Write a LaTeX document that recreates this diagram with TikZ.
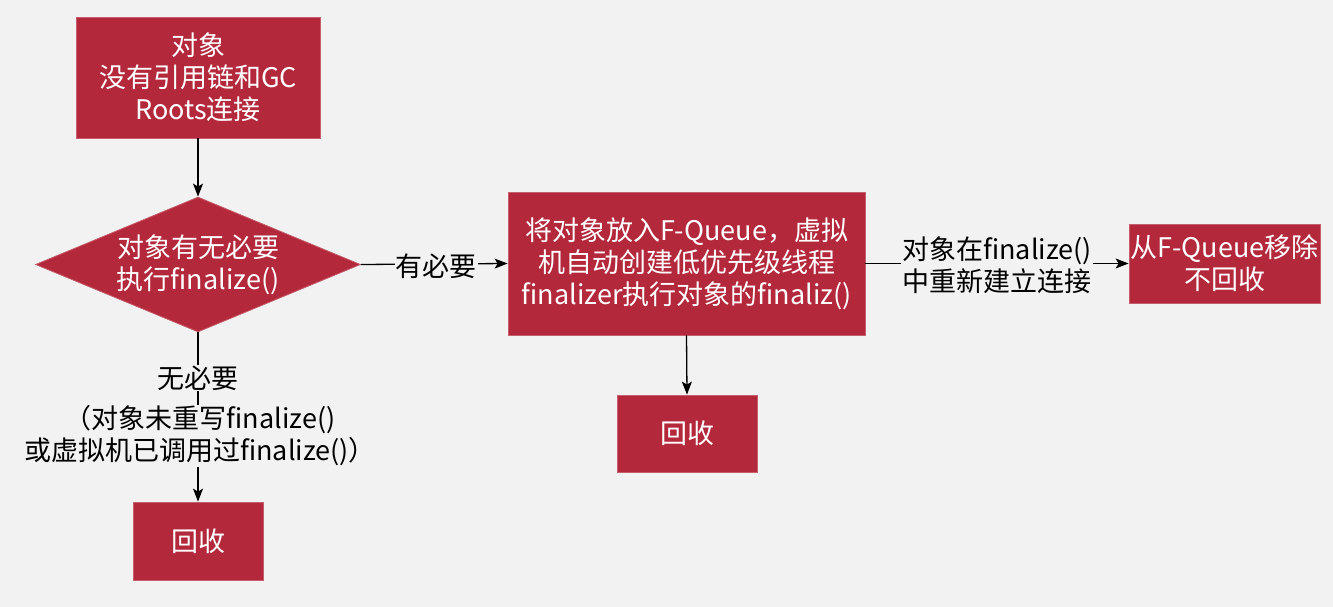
\documentclass[tikz,border=0pt]{standalone}
\usepackage{fontspec}
\setmainfont{Noto Sans CJK SC}
\usetikzlibrary{shapes.geometric,arrows.meta}
\definecolor{bg}{HTML}{F2F2F2}
\definecolor{boxred}{HTML}{B3293B}
\tikzset{
  redbox/.style={rectangle, fill=boxred, draw=boxred!75!white, line width=0.8pt, text=white,
    font=\fontsize{27}{32}\selectfont, align=center, inner sep=0pt},
  reddia/.style={diamond, shape aspect=2.41, fill=boxred, draw=boxred!75!white, line width=0.8pt, text=white,
    font=\fontsize{27}{32}\selectfont, align=center, inner sep=0pt},
  lbl/.style={fill=bg, text=black, font=\fontsize{27}{32}\selectfont, align=center, inner sep=1pt},
  conn/.style={draw=black, line width=1.3pt, -{Stealth[length=13pt,width=10pt,inset=3pt]}}
}
\begin{document}
\begin{tikzpicture}[x=1pt,y=-1pt]
\fill[bg] (0,0) rectangle (1333,607);
\useasboundingbox (0,0) rectangle (1333,607);

\node[redbox, minimum width=244pt, minimum height=121pt] (start) at (198,77.5)
  {对象\\没有引用链和GC\\Roots连接};
\node[reddia, minimum width=325pt, minimum height=135pt] (dec) at (198,264.5)
  {对象有无必要\\执行finalize()};
\node[redbox, minimum width=357pt, minimum height=143pt] (queue) at (686.5,263.5)
  {将对象放入F-Queue，虚拟\\机自动创建低优先级线程\\finalizer执行对象的finaliz()};
\node[redbox, minimum width=140pt, minimum height=77pt] (rec2) at (687,433.5) {回收};
\node[redbox, minimum width=191pt, minimum height=79pt] (keep) at (1224.5,263.5)
  {从F-Queue移除\\不回收};
\node[redbox, minimum width=130pt, minimum height=78pt] (rec1) at (198,541) {回收};

\draw[conn] (start.south) -- (dec.north);
\draw[conn] (dec.east) -- (queue.west);
\draw[conn] (queue.south) -- (rec2.north);
\draw[conn] (queue.east) -- (keep.west);
\draw[conn] (dec.south) -- (rec1.north);

\node[lbl] (l1) at (436,266) {有必要};
\node[lbl] (l2) at (997,265) {对象在finalize()\\中重新建立连接};
\node[lbl] (l3) at (198,378) {无必要};
\node[lbl] (l4) at (200,436) {（对象未重写finalize()\\或虚拟机已调用过finalize()）};
\end{tikzpicture}
\end{document}
